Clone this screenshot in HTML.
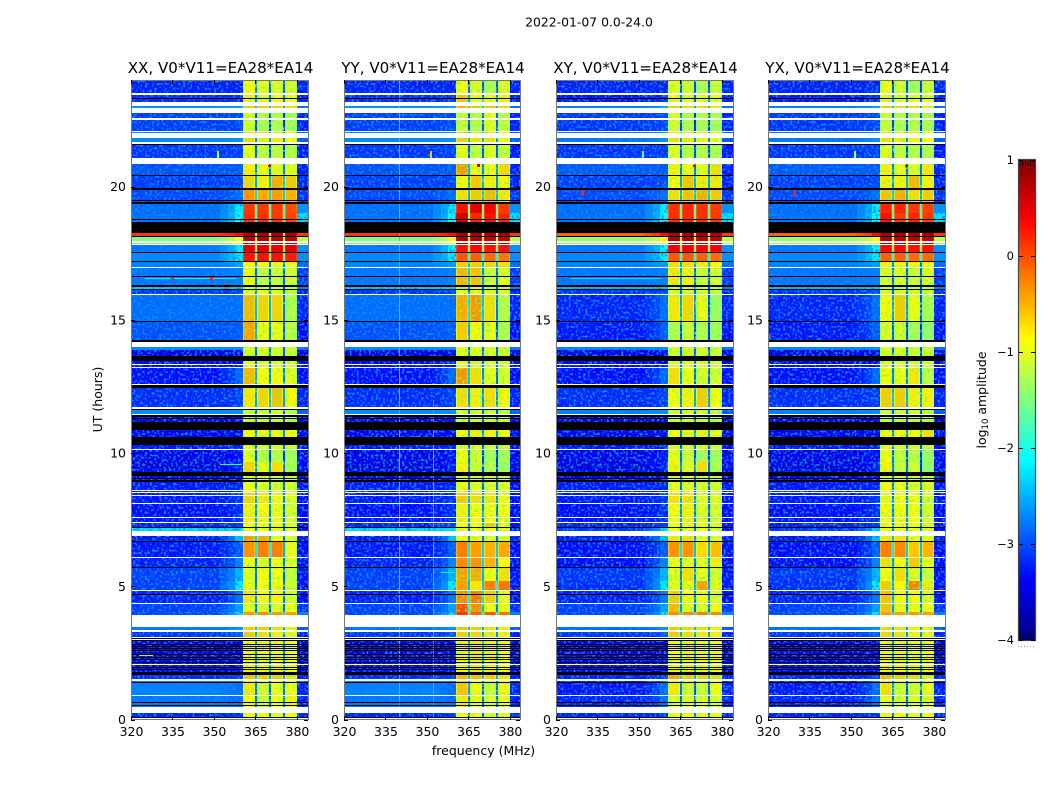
<!DOCTYPE html>
<html lang="en">
<head>
<meta charset="utf-8">
<title>2022-01-07 amplitude waterfall</title>
<style>
html,body{margin:0;padding:0;background:#fff;}
svg{display:block;}
text{font-family:"DejaVu Sans","Liberation Sans",sans-serif;fill:#000;}
</style>
</head>
<body>
<svg id="chart" width="1050" height="800" viewBox="0 0 1050 800" xmlns="http://www.w3.org/2000/svg">
<defs>
<filter id="speckle" filterUnits="userSpaceOnUse" x="120" y="70" width="840" height="660" color-interpolation-filters="sRGB">
<feTurbulence type="fractalNoise" baseFrequency="0.42" numOctaves="1" seed="3"/>
<feColorMatrix type="matrix" values="0 0 0 0 0.02  0 0 0 0 0.55  0 0 0 0 1  5 0 0 0 -2.45"/>
<feComposite in2="SourceGraphic" operator="in"/>
</filter>
<filter id="speckle-band" filterUnits="userSpaceOnUse" x="120" y="70" width="840" height="660" color-interpolation-filters="sRGB">
<feTurbulence type="fractalNoise" baseFrequency="0.4" numOctaves="1" seed="11"/>
<feColorMatrix type="matrix" values="0 0 0 0 0.45  0 0 0 0 1  0 0 0 0 0.35  4 0 0 0 -2.1"/>
<feComposite in2="SourceGraphic" operator="in"/>
</filter>
</defs>
<rect x="0" y="0" width="1050" height="800" fill="#fff"/>
<text x="589" y="26.5" font-size="12.4" text-anchor="middle">2022-01-07 0.0-24.0</text>
<text x="483.5" y="755" font-size="12.5" text-anchor="middle">frequency (MHz)</text>
<text x="0" y="0" font-size="12.5" text-anchor="middle" transform="translate(102,399.5) rotate(-90)">UT (hours)</text>
<text x="0" y="0" font-size="12.5" text-anchor="middle" transform="translate(986,400) rotate(-90)">log<tspan font-size="8.5" dy="2">10</tspan><tspan dy="-2"> amplitude</tspan></text>
<g id="panels"></g>
<g id="colorbar"></g>
</svg>
<script>
// Axis tick values
const freqTicks = [320, 335, 350, 365, 380];
const hourTicks = [0, 5, 10, 15, 20];
const colorbarTicks = [1, 0, -1, -2, -3, -4];
const polarizations = ['XX', 'YY', 'XY', 'YX'];
const baselineLabel = 'V0*V11=EA28*EA14';

// Time segment boundaries (UT hours, top to bottom)
const segmentEdges = [24,23.5,23.04,22.76,22.1,21.6,20.86,20.4,19.89,19.33,19,18.26,18.13,17.8,17.5,17.18,16.94,16.3,16.14,15.96,14.93,14.15,13.85,13.66,13.2,12.44,11.66,11.41,10.85,10.3,10.11,9.65,9.14,8.92,8.51,8.08,7.37,7.19,6.89,6.66,6.07,5.7,5.2,4.83,4.33,4.05,3.48,3.29,2.97,2.05,1.67,1.46,0.88,0.26,0];

// log10 amplitude per time segment, off-band regions
const bgAuto = [-3,-2.95,-2.4,-2.85,-2.45,-2.9,-2.75,-2.85,-2.8,-2.6,-2.6,0.1,-1.5,-2.55,-2.45,-2.5,-2.55,-2.1,-2.9,-2.6,-2.75,-2.45,-3.3,-3.2,-3.1,-2.95,-2.45,-3.3,-3.2,-3.05,-3.25,-3.3,-3.3,-3.05,-3.05,-3.1,-3,-2,-3.05,-3.05,-3,-2.85,-2.85,-3,-2.85,-2.8,-2.55,-2.9,-3.3,-3.2,-2.95,-2.5,-2.55,-3];
const bgCross = [-3,-3.05,-2.5,-2.9,-2.55,-2.9,-2.7,-2.85,-2.8,-2.6,-2.6,-0.1,-1.4,-2.55,-2.45,-2.5,-2.55,-2.2,-2.9,-3,-3.05,-2.5,-3.3,-3.2,-3.1,-2.95,-2.5,-3.3,-3.2,-3.05,-3.25,-3.3,-3.3,-3.05,-3.05,-3.1,-3,-2.9,-3.05,-3.1,-3.1,-2.9,-2.95,-3,-2.85,-2.8,-2.6,-2.9,-3.3,-3.2,-3,-3.05,-3,-3];
const leakLevel = [-3,-2.9,-2.3,-2.8,-2.4,-2.85,-2.7,-2.8,-2.6,-1.95,-1.85,0.3,-0.9,-1.9,-1.95,-2.3,-2.5,-2.1,-2.8,-2.6,-2.7,-2.4,-3.25,-3.15,-2.65,-2.85,-2.4,-3.25,-3.15,-3,-3.1,-3,-3.25,-3,-2.9,-2.95,-2.85,-2,-2.15,-2.7,-2.5,-2.2,-1.95,-2.55,-2.3,-2,-2.4,-2.7,-3.25,-3.1,-2.85,-2.6,-2.6,-2.9];
const rightLevel = [-3,-3,-2.6,-3,-2.7,-3.05,-3,-3,-2.9,-2.4,-2,0.1,-1.2,-2.4,-2.4,-2.6,-2.85,-2.5,-3,-3,-3.1,-2.6,-3.3,-3.2,-3.1,-3,-2.7,-3.3,-3.2,-3.1,-3.2,-3.2,-3.3,-3.1,-3.1,-3.15,-3.1,-3.1,-3,-3.1,-3.1,-3.1,-3.05,-3.1,-2.9,-2.5,-2.7,-3,-3.3,-3.25,-3,-3,-3,-3];

// log10 amplitude per time segment for the four sub-bands, one array per polarization
const bandsXX = [[-.85,-1,-1,-1.05],[-.8,-1,-.85,-.85],[-.55,-.6,-.6,-.7],[-1.05,-1.25,-1.25,-1.3],[-.65,-.75,-.75,-.9],[-.95,-1.15,-1.15,-1.2],[-.8,-.95,-.95,-.95],[-.65,-.8,-.45,-.6],[-.35,-.45,-.4,-.5],[.1,.1,.1,0],[.15,.15,.1,.05],[.8,.8,.8,.8],[.75,.75,.7,.7],[.5,.5,.45,.5],[.3,.3,.3,.25],[-.85,-.9,-.9,-.9],[-.85,-1.15,-1.1,-1.05],[-1.1,-1.1,-1.1,-1.1],[-1,-1,-1,-1.1],[-.5,-.65,-.65,-1.25],[-.4,-.9,-.9,-1.2],[-1,-1,-1.05,-1.1],[-1.05,-1.05,-1.05,-1.1],[-1,-1,-1,-1.05],[-.5,-.9,-.85,-1],[-.75,-.65,-.55,-.85],[-1.1,-1.1,-1.1,-1.15],[-1.1,-1.1,-1.1,-1.15],[-.85,-.85,-.85,-.85],[-1,-1,-1,-1.1],[-1,-1.25,-1.2,-1.3],[-.65,-.95,-.7,-1.25],[-1,-1,-1,-1.1],[-.9,-1,-1.05,-1.05],[-.65,-.75,-.85,-1],[-.8,-.85,-.95,-1.05],[-.9,-.9,-.85,-1],[-.9,-.9,-.9,-1],[-.35,-.45,-.9,-1],[-.35,-.25,-.25,-1],[-.9,-1,-.9,-1],[-1,-.85,-.9,-1.15],[-.95,-.9,-.85,-1.05],[-.75,-.85,-.85,-1.05],[-1,-1.05,-1.05,-.9],[-.35,-.3,-.35,-.4],[-.6,-.6,-.7,-.8],[-.6,-.7,-.8,-.8],[-.85,-.8,-.85,-.85],[-.8,-.8,-.8,-.85],[-.55,-.6,-.6,-.7],[-.75,-1.1,-.95,-.95],[-.85,-1.1,-.9,-.8],[-.9,-.85,-1,-.9]];
const bandsYY = [[-.9,-1,-1.25,-1],[-.55,-.95,-.9,-.8],[-.5,-.55,-.55,-.65],[-1.1,-1.2,-.95,-1.15],[-.6,-.7,-.7,-.85],[-.95,-1.15,-1,-1.15],[-.35,-.9,-.9,-.65],[-.85,-.6,-.8,-.85],[-.7,-.6,-.5,-.75],[.3,.5,.4,.1],[.6,.2,.3,.2],[.8,.8,.8,.8],[.8,.8,.7,.7],[.3,.35,.3,.3],[-.05,-.1,-.15,-.2],[-.6,-.6,-.65,-.7],[-.5,-.55,-1.1,-1],[-1.1,-1.05,-1.1,-1.1],[-1,-1,-1,-1.05],[-.45,-.35,-.7,-1.2],[-.6,-.85,-.95,-1.25],[-.95,-1,-1,-1.05],[-1,-1,-1,-1.05],[-.95,-1,-1,-1],[-.35,-.7,-.95,-1.05],[-.7,-.8,-.7,-.85],[-1.05,-1.1,-1.1,-1.15],[-1.05,-1.1,-1.1,-1.1],[-.85,-.8,-.85,-.85],[-1,-1,-1.05,-1.1],[-.9,-1.05,-1.3,-1.3],[-.8,-1.1,-1.2,-1.35],[-1,-1,-1,-1.05],[-.9,-1,-1,-1],[-.6,-.7,-.75,-.9],[-.8,-.85,-.9,-.9],[-.85,-.85,-.6,-.9],[-.9,-.9,-.9,-1],[-.9,-.8,-1,-1],[-.25,-.4,-.5,-.45],[-.3,-.35,-.5,-.85],[-.4,-.45,-.85,-.7],[-.4,-.75,-.25,-.2],[-.3,-.2,-.6,-.95],[0,-.3,-.9,-.95],[.1,-.1,-.05,-.2],[-.55,-.6,-.7,-.8],[-.6,-.65,-.75,-.8],[-.8,-.75,-.8,-.85],[-.8,-.75,-.8,-.85],[-.5,-.55,-.6,-.7],[-.55,-.9,-1.1,-.85],[-.75,-.95,-1,-.95],[-.9,-.85,-1,-.95]];
const bandsXY = [[-1,-1.05,-1.25,-1.1],[-.85,-1,-.95,-.95],[-.6,-.65,-.65,-.75],[-1.05,-1.25,-1.25,-1.3],[-.7,-.75,-.8,-.9],[-1,-1.2,-1.2,-1.25],[-.8,-.9,-.95,-.7],[-.85,-.55,-.75,-.75],[-.7,-.55,-.45,-.6],[.15,.2,.15,.1],[.15,.2,.15,.1],[.8,.8,.8,.8],[.8,.8,.7,.7],[.45,.45,.4,.4],[-.05,-.05,-.1,-.15],[-.7,-.7,-.8,-.85],[-.75,-.8,-1.1,-1.05],[-1.1,-1.1,-1.1,-1.15],[-1.05,-1.05,-1.05,-1.1],[-.75,-.65,-.95,-1.35],[-1.25,-1.1,-1.25,-1.3],[-1,-1,-1.05,-1.1],[-1.05,-1.05,-1.05,-1.1],[-1,-1,-1,-1.05],[-.7,-.95,-1.05,-1.05],[-.85,-.8,-.6,-.9],[-1.1,-1.1,-1.1,-1.15],[-1.1,-1.1,-1.1,-1.15],[-.9,-.85,-.8,-.85],[-1,-1,-1,-1.1],[-.95,-1.1,-1.3,-1.3],[-.8,-1,-.7,-1.25],[-1,-1,-1,-1.1],[-.95,-1,-1.05,-1.05],[-.7,-.7,-1,-1],[-.85,-.8,-1,-1.05],[-.9,-.9,-.85,-1],[-.9,-.9,-.9,-1],[-.75,-.7,-.9,-1],[-.35,-.35,-.7,-.55],[-.9,-1,-.95,-.8],[-1,-.7,-.95,-1.05],[-.95,-.95,-.4,-.95],[-.6,-.85,-.9,-1],[-.5,-1,-1,-.9],[-.3,-.3,-.25,-.3],[-.6,-.65,-.7,-.8],[-.6,-.7,-.75,-.8],[-.85,-.8,-.85,-.85],[-.8,-.75,-.8,-.85],[-.4,-.6,-.6,-.7],[-.75,-1.05,-1.1,-.95],[-1,-.95,-.95,-1],[-.85,-.85,-1,-.9]];
const bandsYX = [[-.9,-1.05,-1.3,-1.1],[-.8,-1,-1,-.95],[-.6,-.65,-.65,-.75],[-1.1,-1.25,-1.2,-1.25],[-.7,-.75,-.8,-.9],[-1,-1.15,-1.2,-1.2],[-.8,-.95,-1,-.75],[-.8,-.8,-.5,-.8],[-.55,-.45,-.7,-.6],[.2,.2,.1,.05],[.3,.1,.2,.1],[.8,.8,.8,.8],[.8,.75,.7,.7],[.35,.35,.3,.3],[-.1,-.1,-.15,-.15],[-.8,-.8,-.85,-.9],[-1,-1,-1.1,-1],[-1.1,-1.1,-1.1,-1.15],[-1.05,-1.05,-1.05,-1.1],[-.85,-.6,-.95,-1.25],[-1.05,-1.05,-1.3,-1.4],[-1,-1,-1.05,-1.1],[-1.05,-1.05,-1.05,-1.1],[-1,-1,-1.05,-1.05],[-.9,-.95,-.75,-1.2],[-.6,-.6,-.8,-.8],[-1.1,-1.1,-1.1,-1.15],[-1.1,-1.1,-1.1,-1.1],[-.85,-.85,-.85,-.7],[-1,-1,-1,-1.1],[-.9,-1.15,-1.2,-1.35],[-.8,-1.1,-1.1,-1.4],[-1,-1,-1,-1.1],[-.9,-.95,-1,-1],[-.95,-.85,-.9,-1.05],[-.9,-.85,-.9,-1.05],[-.9,-.9,-.85,-1],[-.9,-.9,-.9,-1],[-.75,-.7,-.85,-.95],[-.25,-.3,-.6,-.5],[-.7,-.85,-.6,-.9],[-.9,-.7,-1,-1.1],[-.6,-.85,-.25,-.75],[-.55,-.85,-.85,-1],[-.55,-.95,-.95,-.9],[-.4,-.4,-.35,-.4],[-.65,-.7,-.8,-.85],[-.65,-.75,-.8,-.85],[-.85,-.8,-.85,-.85],[-.8,-.8,-.85,-.85],[-.5,-.6,-.65,-.75],[-.7,-1.1,-1.1,-.95],[-.95,-1,-1,-1],[-.85,-.85,-1,-.9]];
const bandsByPol = { XX: bandsXX, YY: bandsYY, XY: bandsXY, YX: bandsYX };

// Flagged time ranges (UT hours): [start, end]
const whiteFlags = [[23.51,23.45],[23.19,23.04],[22.96,22.76],[22.57,22.51],[22.1,22.05],[22.01,21.82],[21.67,21.61],[21.07,20.86],[19.4,19.34],[17.94,17.89],[17.84,17.8],[17.56,17.52],[17,16.94],[15.98,15.96],[14.15,13.97],[13.35,13.31],[13.24,13.2],[12.59,12.55],[11.71,11.66],[11.46,11.41],[10.15,10.11],[8.61,8.57],[8.55,8.51],[8.41,8.37],[8.11,8.08],[7.6,7.56],[7.41,7.37],[7.08,6.89],[6.1,6.07],[4.86,4.83],[4.37,4.33],[3.92,3.48],[3.36,3.29],[3.08,3.06],[3.01,2.98],[2.08,2.05],[1.53,1.46],[0.91,0.88],[0.46,0.26],[0.07,0.03]];
const blackFlags = [[23.32,23.28],[21.61,21.58],[20.42,20.4],[19.94,19.89],[19.5,19.47],[19.42,19.4],[19.37,19.33],[18.77,18.73],[18.66,18.26],[18.13,18.09],[17.54,17.5],[17.22,17.18],[16.63,16.59],[16.29,16.25],[16.14,16.11],[14.96,14.93],[14.25,14.15],[13.66,13.46],[12.55,12.44],[11.66,11.61],[11.41,11.36],[11.31,11.27],[11.16,10.85],[10.61,10.3],[9.3,9.14],[9.07,9.03],[8.99,8.92],[7.22,7.19],[6.69,6.66],[5.72,5.7],[4.7,4.67],[3.06,3.03],[2.97,2.93],[2.83,2.8],[2.76,2.73],[2.68,2.65],[2.59,2.56],[2.46,2.43],[2.36,2.33],[2.27,2.24],[2.17,2.14],[1.98,1.95],[1.88,1.85],[1.78,1.67],[1.41,1.36],[0.67,0.63],[0.54,0.51],[0.1,0.07],[0.03,0]];

// Isolated features: [polarization, start MHz, end MHz, start hour, end hour, log10 amplitude]
const spikes = [
  ['XX',351,351.8,21.32,21.07,-1.3],['YY',351,351.8,21.32,21.07,-0.6],['XY',351,351.8,21.32,21.07,-1.6],['YX',351,351.8,21.32,21.07,-1.2],
  ['YY',340,340.4,24,0,-2.3],['YY',352,352.4,12,0,-2.4],
  ['XX',369.5,370.5,20.82,20.72,0.5],['YY',368,369,20.84,20.74,0.6],['XY',369.5,370.5,20.82,20.74,0.4],['YX',369.5,370.5,20.82,20.72,0.5],
  ['XX',325,358,16.57,16.52,-2.2],['XX',334.5,335.5,16.6,16.48,0.2],['XX',348.5,349.5,16.6,16.48,0.2],['XX',354,354.8,16.38,16.12,0.1],
  ['XY',325,358,16.57,16.52,-2.3],['XY',329,330,19.95,19.65,0.2],['YX',329,330,19.95,19.65,0.2],
  ['XX',323,328,2.42,2.38,-1.5],
  ['YY',355,360,5.55,5.5,-2.2],['XX',352,360,9.6,9.55,-2.0],['YX',355,360,3.82,3.78,-1.7]
];

// Plot geometry
const panelLefts = [131, 344, 556, 768];
const panelWidths = [177, 176, 177, 177];
const plotTop = 80;
const plotBottom = 719.5;
const freqMin = 320;
const freqMax = 384;
const bandStarts = [360.5, 365.6, 370.6, 375.6];
const bandEnds = [364.9, 369.9, 374.9, 380];
const offBandShift = -0.25;
const SVG_NS = 'http://www.w3.org/2000/svg';

function jet(v) {
  const t = Math.min(1, Math.max(0, (v + 4) / 5));
  const ch = (c) => Math.round(255 * Math.min(1, Math.max(0, 1.5 - Math.abs(4 * t - c))));
  return 'rgb(' + ch(3) + ',' + ch(2) + ',' + ch(1) + ')';
}
function offBand(v) {
  return v < -1.8 ? v + offBandShift : v;
}
function xScale(panel, f) {
  return panelLefts[panel] + (f - freqMin) * 177 / (freqMax - freqMin);
}
function yScale(h) {
  return plotBottom - h * (plotBottom - plotTop) / 24;
}
function makeRect(parent, x0, x1, y0, y1, fill) {
  const rx0 = Math.round(x0), ry0 = Math.round(y0);
  const el = document.createElementNS(SVG_NS, 'rect');
  el.setAttribute('x', rx0);
  el.setAttribute('y', ry0);
  el.setAttribute('width', Math.max(1, Math.round(x1) - rx0));
  el.setAttribute('height', Math.max(1, Math.round(y1) - ry0));
  el.setAttribute('fill', fill);
  el.setAttribute('shape-rendering', 'crispEdges');
  parent.appendChild(el);
  return el;
}
function makeText(parent, x, y, size, anchor, str) {
  const el = document.createElementNS(SVG_NS, 'text');
  el.setAttribute('x', x);
  el.setAttribute('y', y);
  el.setAttribute('font-size', size);
  el.setAttribute('text-anchor', anchor);
  el.textContent = str;
  parent.appendChild(el);
  return el;
}
function makeGroup(parent) {
  const el = document.createElementNS(SVG_NS, 'g');
  parent.appendChild(el);
  return el;
}

const panelsRoot = document.getElementById('panels');

polarizations.forEach(function (pol, p) {
  const left = panelLefts[p];
  const right = left + panelWidths[p];
  const g = makeGroup(panelsRoot);
  
  

  const bands = bandsByPol[pol];
  const bg = (pol === 'XX' || pol === 'YY') ? bgAuto : bgCross;

  // Base heatmap cells
  bands.forEach(function (row, s) {
    const y0 = yScale(segmentEdges[s]);
    const y1 = yScale(segmentEdges[s + 1]);
    const base = offBand(bg[s]);
    const leak = offBand(leakLevel[s]);
    const columns = [
      [freqMin, 352, base],
      [352, 355, base * 0.75 + leak * 0.25],
      [355, 357.5, (base + leak) / 2],
      [357.5, bandStarts[0], leak],
      [bandEnds[3], freqMax, offBand(rightLevel[s])]
    ];
    row.forEach(function (level, b) {
      columns.push([bandStarts[b], bandStarts[b] + 0.4, level - 0.25]);
      columns.push([bandStarts[b] + 0.4, bandEnds[b] - 0.4, level]);
      columns.push([bandEnds[b] - 0.4, bandEnds[b], level - 0.2]);
      if (b < 3) {
        columns.push([bandEnds[b], bandStarts[b + 1], (level + row[b + 1]) / 2 - 1.9]);
      }
    });
    columns.forEach(function (c) {
      const cell = makeRect(g, xScale(p, c[0]), xScale(p, c[1]), y0, y1, jet(c[2]));
      
      
    });

    // Fine-grained mottling on quiet segments only
    if (bg[s] < -1.8) {
      const speck = makeRect(g, xScale(p, freqMin), xScale(p, bandStarts[0]), y0, y1, '#000');
      speck.setAttribute('filter', 'url(#speckle)');
      
      
      const speckRight = makeRect(g, xScale(p, bandEnds[3]), xScale(p, freqMax), y0, y1, '#000');
      speckRight.setAttribute('filter', 'url(#speckle)');
      
      
    }
    if ((row[0] + row[1] + row[2] + row[3]) / 4 < -0.5) {
      const speckBand = makeRect(g, xScale(p, bandStarts[0]), xScale(p, bandEnds[3]), y0, y1, '#000');
      speckBand.setAttribute('filter', 'url(#speckle-band)');
      
      
    }
  });

  // Isolated features
  spikes.filter(function (s) { return s[0] === pol; }).forEach(function (s) {
    const mark = makeRect(g, xScale(p, s[1]), xScale(p, s[2]), yScale(s[3]), yScale(s[4]), jet(s[5]));
    
    
  });

  // Flags
  whiteFlags.forEach(function (f) {
    const flag = makeRect(g, left, right, yScale(f[0]), yScale(f[1]), '#fff');
    
    
  });
  blackFlags.forEach(function (f) {
    const flag = makeRect(g, left, right, yScale(f[0]), yScale(f[1]), '#000');
    
    
  });

  // Frame
  const frame = document.createElementNS(SVG_NS, 'rect');
  frame.setAttribute('x', left + 0.5);
  frame.setAttribute('y', plotTop + 0.5);
  frame.setAttribute('width', panelWidths[p]);
  frame.setAttribute('height', 639);
  frame.setAttribute('fill', 'none');
  frame.setAttribute('stroke', '#777');
  frame.setAttribute('stroke-width', '1');
  
  
  g.appendChild(frame);

  // Title
  const title = makeText(g, left + panelWidths[p] / 2 + 1, 73, 15.1, 'middle', pol + ', ' + baselineLabel);
  
  

  // X ticks
  freqTicks.forEach(function (f) {
    const x = xScale(p, f);
    const tb = makeRect(g, x, x + 1, plotBottom - 4, plotBottom, '#000');
    
    
    const tt = makeRect(g, x, x + 1, plotTop, plotTop + 4, '#000');
    
    
    const label = makeText(g, x + 0.5, 736, 12.5, 'middle', String(f));
    
    
  });

  // Y ticks
  hourTicks.forEach(function (h) {
    const y = yScale(h);
    const tl = makeRect(g, left, left + 4, y, y + 1, '#000');
    
    
    const tr = makeRect(g, right - 4, right, y, y + 1, '#000');
    
    
    const label = makeText(g, left - 5, y + 4.5, 12.5, 'end', String(h));
    
    
  });
});

// Colorbar
const cbRoot = document.getElementById('colorbar');
const cbLeft = 1019;
const cbRight = 1035;
const cbTop = 160;
const cbBottom = 640;
function cbScale(v) {
  return cbBottom - (v + 4) * (cbBottom - cbTop) / 5;
}
for (let v = 1; v > -4; v -= 0.02) {
  const strip = makeRect(cbRoot, cbLeft, cbRight, cbScale(v), cbScale(v - 0.02) + 1, jet(v - 0.01));
  
  
}
for (let i = 0; i < 5; i++) {
  const tickX = cbLeft + 3 + i * 2.7;
  const hatchTop = makeRect(cbRoot, tickX, tickX + 1, cbTop, cbTop + 6, 'rgba(0,0,0,0.75)');
  
  
  const hatchBottom = makeRect(cbRoot, tickX, tickX + 1, cbBottom - 6, cbBottom, 'rgba(0,0,0,0.75)');
  
  
}
for (let i = 0; i < 6; i++) {
  const dot = makeRect(cbRoot, cbLeft - 1 + i * 3, cbLeft + i * 3, 646, 647, '#aaa');
  
  
}
const cbFrame = document.createElementNS(SVG_NS, 'rect');
cbFrame.setAttribute('x', cbLeft - 0.5);
cbFrame.setAttribute('y', cbTop - 0.5);
cbFrame.setAttribute('width', cbRight - cbLeft + 1);
cbFrame.setAttribute('height', cbBottom - cbTop + 1);
cbFrame.setAttribute('fill', 'none');
cbFrame.setAttribute('stroke', '#444');
cbFrame.setAttribute('stroke-width', '1.2');


cbRoot.appendChild(cbFrame);
colorbarTicks.forEach(function (v) {
  const y = cbScale(v);
  const left = makeRect(cbRoot, cbLeft, cbLeft + 4, y, y + 1, '#000');
  
  
  const right = makeRect(cbRoot, cbRight - 4, cbRight, y, y + 1, '#000');
  
  
  const label = makeText(cbRoot, 1014, y + 4, 11.5, 'end', v < 0 ? '\u2212' + Math.abs(v) : String(v));
  
  
});
</script>
</body>
</html>
